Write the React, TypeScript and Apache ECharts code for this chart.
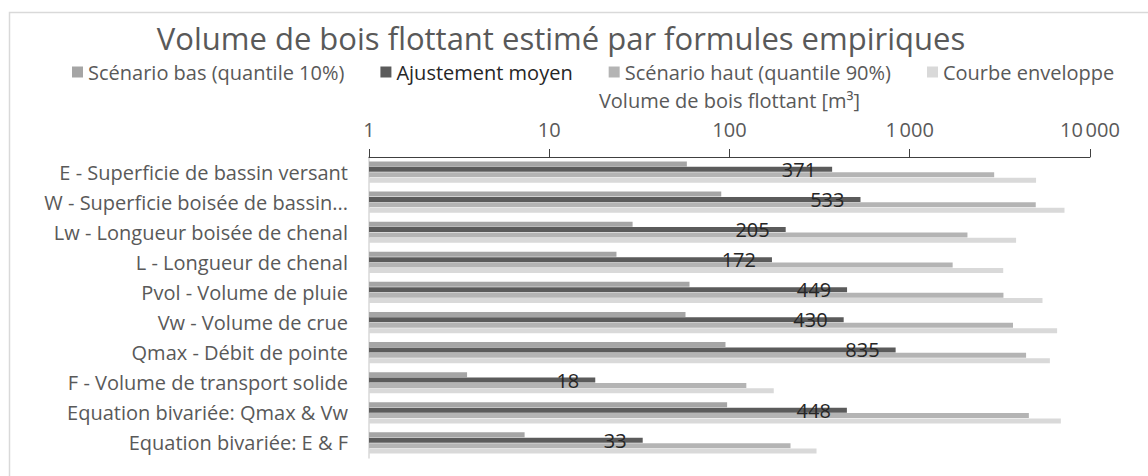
import React, { useEffect, useRef } from "react";
import * as echarts from "echarts";

const categories = [
  "E - Superficie de bassin versant",
  "W - Superficie boisée de bassin...",
  "Lw - Longueur boisée de chenal",
  "L - Longueur de chenal",
  "Pvol - Volume de pluie",
  "Vw - Volume de crue",
  "Qmax - Débit de pointe",
  "F - Volume de transport solide",
  "Equation bivariée: Qmax & Vw",
  "Equation bivariée: E & F",
];

const scenarioBas = [58, 90, 29, 23.6, 60, 57, 95, 3.5, 97, 7.3];
const ajustementMoyen = [371, 533, 205, 172, 449, 430, 835, 18, 448, 33];
const scenarioHaut = [2940, 5000, 2090, 1730, 3310, 3740, 4420, 124, 4580, 218];
const courbeEnveloppe = [5020, 7220, 3890, 3300, 5450, 6570, 5990, 176, 6890, 304];

const tickLabels: Record<number, string> = {
  1: "1",
  10: "10",
  100: "100",
  1000: "1\u202F000",
  10000: "10\u202F000",
};

const FONT = "Open Sans";

export default function App() {
  const ref = useRef<HTMLDivElement>(null);

  useEffect(() => {
    if (!ref.current) return;
    const chart = echarts.init(ref.current, null, { renderer: "svg" });
    const mkSeries = (name: string, data: number[], color: string, label = false) => ({
      name,
      type: "bar",
      data,
      barWidth: 5,
      barGap: "8%",
      itemStyle: { color },
      label: label
        ? {
            show: true,
            position: "insideRight",
            distance: 16,
            color: "#262626",
            fontSize: 20,
            fontFamily: FONT,
          }
        : { show: false },
    });
    chart.setOption({
      animation: false,
      textStyle: { fontFamily: FONT },
      title: {
        text: "Volume de bois flottant estimé par formules empiriques",
        left: 556,
        textAlign: "center",
        top: 17,
        textStyle: { fontSize: 31, fontWeight: "normal", color: "#595959", fontFamily: FONT },
      },
      legend: {
        top: 62,
        left: 72,
        padding: 0,
        itemWidth: 11,
        itemHeight: 11,
        itemGap: 36,
        icon: "rect",
        textStyle: { fontSize: 20, color: "#595959", fontFamily: FONT },
        data: [
          { name: "Scénario bas (quantile 10%)" },
          { name: "Ajustement moyen", textStyle: { color: "#262626" } },
          { name: "Scénario haut (quantile 90%)" },
          { name: "Courbe enveloppe" },
        ],
      },
      graphic: [
        {
          type: "rect",
          shape: { x: 9.5, y: 12.5, width: 1300, height: 600 },
          style: { fill: "none", stroke: "#d9d9d9", lineWidth: 1.5 },
          silent: true,
        },
      ],
      grid: { left: 369, right: 58, top: 157, height: 301, containLabel: false },
      xAxis: {
        type: "log",
        logBase: 10,
        min: 1,
        max: 10000,
        position: "top",
        name: "Volume de bois flottant [m³]",
        nameLocation: "middle",
        nameGap: 47,
        nameTextStyle: { fontSize: 20, color: "#595959", fontFamily: FONT },
        axisLine: { show: true, lineStyle: { color: "#404040", width: 1 } },
        axisTick: { show: true, inside: false, length: 8, lineStyle: { color: "#404040" } },
        splitLine: { show: false },
        minorTick: { show: false },
        axisLabel: {
          fontSize: 20,
          color: "#595959",
          fontFamily: FONT,
          margin: 18,
          formatter: (v: number) => tickLabels[Math.round(v)] ?? String(v),
        },
      },
      yAxis: {
        type: "category",
        data: categories,
        inverse: true,
        axisLine: { show: true, lineStyle: { color: "#d9d9d9", width: 1.5 } },
        axisTick: { show: false },
        axisLabel: { fontSize: 20, color: "#595959", fontFamily: FONT, margin: 21 },
      },
      series: [
        mkSeries("Scénario bas (quantile 10%)", scenarioBas, "#a5a5a5"),
        mkSeries("Ajustement moyen", ajustementMoyen, "#5b5b5b", true),
        mkSeries("Scénario haut (quantile 90%)", scenarioHaut, "#b4b4b4"),
        mkSeries("Courbe enveloppe", courbeEnveloppe, "#d9d9d9"),
      ],
    });
    return () => chart.dispose();
  }, []);

  return (
    <div
      ref={ref}
      style={{ position: "fixed", left: 0, top: 0, width: 1148, height: 476, background: "#fff" }}
    />
  );
}
